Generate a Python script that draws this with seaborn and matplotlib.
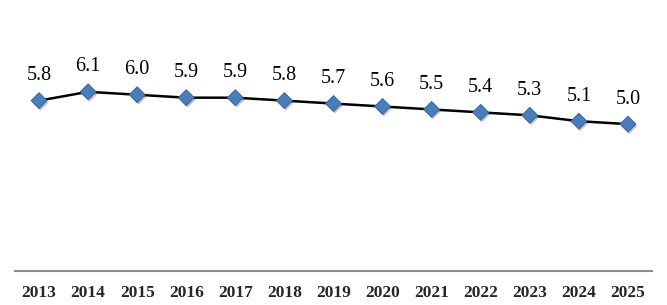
import matplotlib
matplotlib.use("Agg")
import matplotlib.pyplot as plt
import matplotlib.patheffects as pe
import seaborn as sns
import pandas as pd

years = ["2013", "2014", "2015", "2016", "2017", "2018", "2019",
         "2020", "2021", "2022", "2023", "2024", "2025"]
values = [5.8, 6.1, 6.0, 5.9, 5.9, 5.8, 5.7, 5.6, 5.5, 5.4, 5.3, 5.1, 5.0]

df = pd.DataFrame({"year": years, "value": values})
df["idx"] = range(len(years))

sns.set_theme(style="white")
plt.rcParams["font.family"] = ["Liberation Serif", "DejaVu Serif"]

fig = plt.figure(figsize=(6.67, 3.05), dpi=100)
ax = fig.add_axes([15 / 667, 34 / 305, 637 / 667, 235 / 305])

sns.lineplot(data=df, x="idx", y="value", ax=ax, color="black", linewidth=1.8)
sns.scatterplot(data=df, x="idx", y="value", ax=ax, marker="D", s=64,
                color="#4A7EBB", edgecolor="#3B6AA3", linewidth=0.8, zorder=3,
                path_effects=[pe.SimplePatchShadow(offset=(1.0, -1.5), alpha=0.35,
                                                   shadow_rgbFace="#555555"),
                              pe.Normal()])

for i, v in zip(df["idx"], df["value"]):
    ax.annotate(f"{v:.1f}", (i, v), xytext=(0, 18), textcoords="offset points",
                ha="center", va="center", fontsize=14.5, color="black")

ax.set_xlim(-0.49, len(years) - 1 + 0.49)
ax.set_ylim(0, 8)
ax.set_xticks(df["idx"])
ax.set_xticklabels(years, fontsize=12.5, fontweight="bold")
ax.set_yticks([])
ax.tick_params(axis="x", length=0, pad=10)
ax.set_xlabel("")
ax.set_ylabel("")
for s in ["top", "left", "right"]:
    ax.spines[s].set_visible(False)
ax.spines["bottom"].set_color("#8c8c8c")
ax.spines["bottom"].set_linewidth(1.5)
ax.grid(False)

fig.savefig("out.png", dpi=100, facecolor="white")
